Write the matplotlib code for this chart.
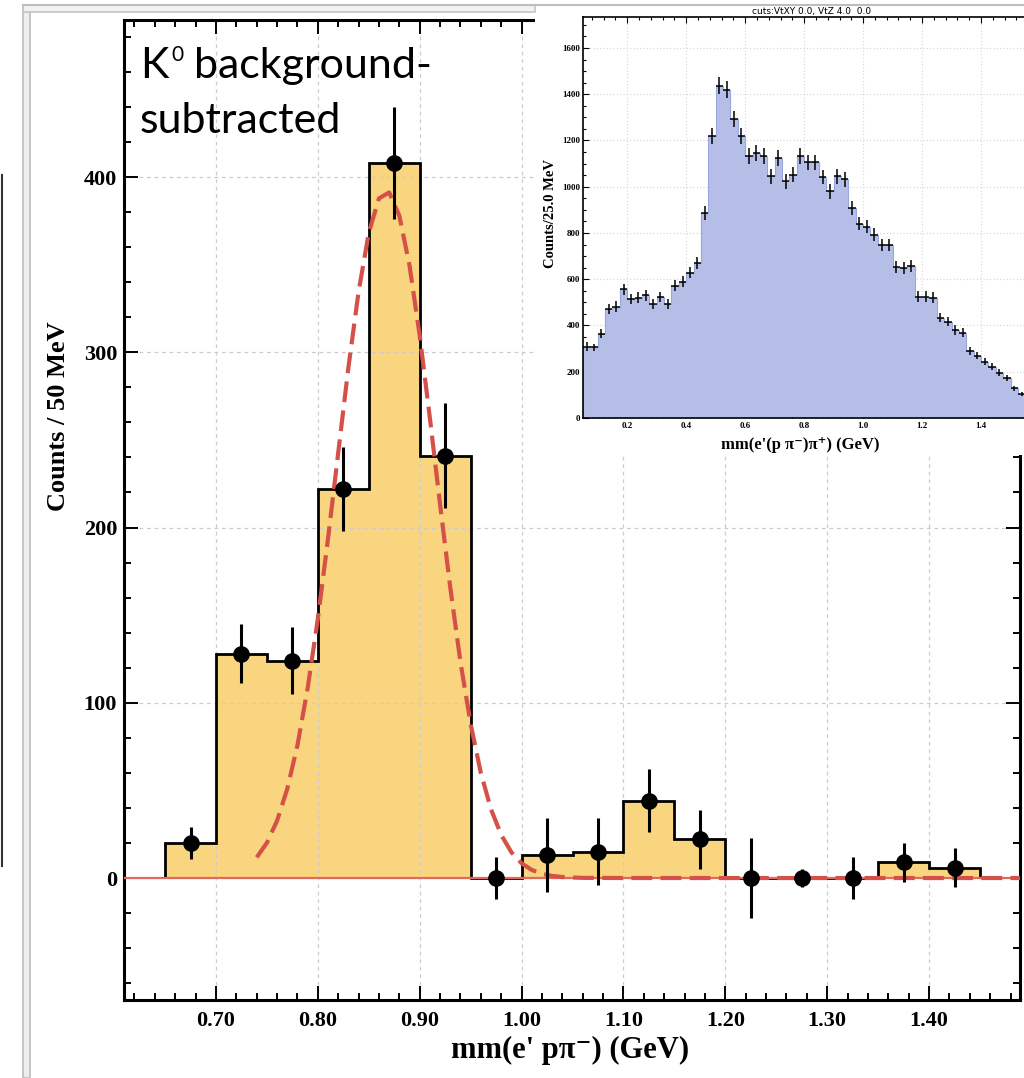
import numpy as np
import matplotlib.pyplot as plt
from matplotlib.lines import Line2D
from matplotlib.patches import Rectangle
from matplotlib.ticker import MultipleLocator, FormatStrFormatter

# main plot: K0 background-subtracted, 50 MeV bins
bin_edges = [0.65, 0.70, 0.75, 0.80, 0.85, 0.90, 0.95, 1.00, 1.05,
             1.10, 1.15, 1.20, 1.25, 1.30, 1.35, 1.40, 1.45]
counts = [20, 128, 124, 222, 408, 241, 0, 13, 15, 44, 22, 0, 0, 0, 9, 6]
count_err = [9, 17, 19, 24, 32, 30, 12, 21, 19, 18, 17, 23, 5, 12, 11, 11]

# dashed fit curve
fit_x = [0.74, 0.75, 0.76, 0.77, 0.78, 0.79, 0.80, 0.81, 0.82, 0.83, 0.84,
         0.85, 0.86, 0.87, 0.88, 0.89, 0.90, 0.91, 0.92, 0.93, 0.94, 0.95,
         0.96, 0.97, 0.98, 0.99, 1.00, 1.01, 1.02, 1.03, 1.04, 1.05, 1.06,
         1.10, 1.49]
fit_y = [11.8, 20.1, 32.7, 50.9, 75.8, 108.3, 148.0, 193.7, 242.7, 291.3,
         334.6, 368.2, 387.8, 391.2, 377.9, 349.5, 309.5, 262.4, 213.1, 165.7,
         123.3, 87.9, 60.0, 39.2, 24.6, 14.7, 8.4, 4.6, 2.4, 1.2, 0.6, 0.3,
         0.1, 0.0, 0.0]

# inset: mm(e'(p pi-)pi+), 25 MeV bins starting at 0.05
inset_lo, inset_bw = 0.05, 0.025
inset_counts = [309, 305, 364, 470, 482, 557, 514, 521, 531, 492, 523, 492,
                572, 590, 629, 669, 886, 1218, 1437, 1420, 1293, 1218, 1134,
                1146, 1134, 1045, 1123, 1023, 1052, 1134, 1105, 1105, 1042,
                980, 1045, 1033, 908, 840, 828, 792, 749, 749, 655, 648, 658,
                525, 525, 521, 434, 417, 381, 369, 290, 270, 244, 222, 196,
                172, 128, 104]
inset_err = [18, 17, 19, 22, 22, 24, 23, 23, 23, 22, 23, 22, 24, 24, 25, 26,
             30, 35, 38, 38, 36, 35, 34, 34, 34, 32, 34, 32, 32, 34, 33, 33,
             32, 31, 32, 32, 30, 29, 29, 28, 27, 27, 26, 25, 26, 23, 23, 23,
             21, 20, 20, 19, 17, 16, 16, 15, 14, 13, 11, 10]
inset_xticks = [0.2, 0.4, 0.6, 0.8, 1.0, 1.2, 1.4]

serif = ['Liberation Serif', 'DejaVu Serif']
sans = ['Lato', 'DejaVu Sans']
W, H = 1024, 1078

fig = plt.figure(figsize=(10.24, 10.78), dpi=100)

# ---- main axes ----
ax = fig.add_axes([124 / W, 1 - 1000 / H, 896 / W, 980 / H])
edges = np.array(bin_edges)
centers = 0.5 * (edges[:-1] + edges[1:])

ax.stairs(counts, edges, fill=True, color='#f8d57e', zorder=1)
ax.stairs(counts, edges, color='black', lw=2.0, baseline=0, zorder=2.6)
ax.axhline(0, color='#e06a62', lw=1.6, zorder=3)
ax.plot(fit_x, fit_y, color='#d6504a', lw=3, dashes=(5, 2), zorder=4)
ax.errorbar(centers, counts, yerr=count_err, fmt='o', color='black',
            ms=11, elinewidth=2.2, capsize=0, zorder=5)

ax.set_xlim(0.6097, 1.4893)
ax.set_ylim(-69.6, 489.6)
ax.xaxis.set_major_locator(MultipleLocator(0.1))
ax.xaxis.set_minor_locator(MultipleLocator(0.02))
ax.xaxis.set_major_formatter(FormatStrFormatter('%.2f'))
ax.yaxis.set_major_locator(MultipleLocator(100))
ax.yaxis.set_minor_locator(MultipleLocator(20))
ax.set_axisbelow(False)
ax.grid(True, which='major', color='#cccccc', ls=(0, (3, 3)), lw=0.9)
ax.tick_params(which='both', direction='in', top=True, right=True, width=1.4)
ax.tick_params(which='major', length=10)
ax.tick_params(which='minor', length=5)
ax.tick_params(axis='x', pad=8)
ax.tick_params(axis='y', pad=5)
for lab in ax.get_xticklabels() + ax.get_yticklabels():
    lab.set_family(serif)
    lab.set_fontweight('bold')
    lab.set_fontsize(16)
for sp in ax.spines.values():
    sp.set_linewidth(2.2)

ax.set_ylabel('Counts / 50 MeV', family=serif, fontweight='bold', fontsize=19)
ax.yaxis.set_label_coords(-0.060, 0.596)
ax.set_xlabel("mm(e' pπ⁻) (GeV)", family=serif, fontweight='bold', fontsize=22)
ax.xaxis.set_label_coords(0.498, -0.037)

# "K0 background-subtracted" annotation (superscript 0 as its own text)
fig.text(140 / W, 1 - 78 / H, 'K', family=sans, fontsize=31, va='baseline')
fig.text(171 / W, 1 - 61 / H, '0', family=sans, fontsize=15, va='baseline')
fig.text(194 / W, 1 - 78 / H, 'background-', family=sans, fontsize=31,
         va='baseline')
fig.text(140 / W, 1 - 133 / H, 'subtracted', family=sans, fontsize=31,
         va='baseline')

# ---- inset panel ----
fig.add_artist(Rectangle((535 / W, 1 - 455 / H), (W - 535) / W, 450 / H,
                         transform=fig.transFigure, facecolor='white',
                         edgecolor='none', zorder=2))
axin = fig.add_axes([583 / W, 1 - 418 / H, 457 / W, 401 / H], zorder=3)
in_edges = inset_lo + inset_bw * np.arange(len(inset_counts) + 1)
in_centers = 0.5 * (in_edges[:-1] + in_edges[1:])
axin.stairs(inset_counts, in_edges, fill=True, color='#b5bee6', zorder=1)
axin.stairs(inset_counts, in_edges, color='#9aa7dc', lw=0.8, zorder=1.5)
axin.errorbar(in_centers, inset_counts, xerr=inset_bw / 2, yerr=inset_err,
              fmt='none', ecolor='black', elinewidth=1.1, capsize=0, zorder=4)
axin.set_xlim(0.05, 1.6)
axin.set_ylim(0, 1734)
axin.set_xticks(inset_xticks)
axin.xaxis.set_minor_locator(MultipleLocator(0.04))
axin.yaxis.set_major_locator(MultipleLocator(200))
axin.yaxis.set_minor_locator(MultipleLocator(50))
axin.set_axisbelow(True)
axin.grid(True, which='major', color='#d4d4d4', ls=(0, (1, 2)), lw=0.8)
axin.tick_params(which='both', direction='in', top=True, right=True, width=0.8)
axin.tick_params(which='major', length=4)
axin.tick_params(which='minor', length=2)
axin.tick_params(axis='x', pad=3)
axin.tick_params(axis='y', pad=2)
for lab in axin.get_xticklabels() + axin.get_yticklabels():
    lab.set_family(serif)
    lab.set_fontweight('bold')
    lab.set_fontsize(6.5)
for sp in axin.spines.values():
    sp.set_linewidth(1.2)
axin.set_title('cuts:VtXY 0.0, VtZ 4.0  0.0', fontsize=6.5, pad=2,
               family='DejaVu Sans')
axin.set_ylabel('Counts/25.0 MeV', family=serif, fontweight='bold', fontsize=10.5)
axin.yaxis.set_label_coords(-0.057, 0.51)
axin.set_xlabel("mm(e'(p π⁻)π⁺) (GeV)", family=serif, fontweight='bold',
                fontsize=12)
axin.xaxis.set_label_coords(0.475, -0.047)

# ---- screenshot window frame ----
fig.add_artist(Rectangle((22.5 / W, 0), 7 / W, 1 - 5 / H, transform=fig.transFigure,
                         facecolor='#eeeeee', edgecolor='#bdbdbd', lw=1.2, zorder=5))
fig.add_artist(Rectangle((22.5 / W, 1 - 12 / H), (535 - 22.5) / W, 7 / H,
                         transform=fig.transFigure, facecolor='#f2f2f2',
                         edgecolor='#c4c4c4', lw=1.2, zorder=5))
fig.add_artist(Line2D([22.5 / W, 1], [1 - 4.5 / H, 1 - 4.5 / H],
                      transform=fig.transFigure, color='#bdbdbd', lw=1.5, zorder=5))
fig.add_artist(Line2D([1.5 / W, 1.5 / W], [1 - 175 / H, 1 - 866 / H],
                      transform=fig.transFigure, color='#333333', lw=1.5, zorder=5))

fig.savefig('out.png', dpi=100)
